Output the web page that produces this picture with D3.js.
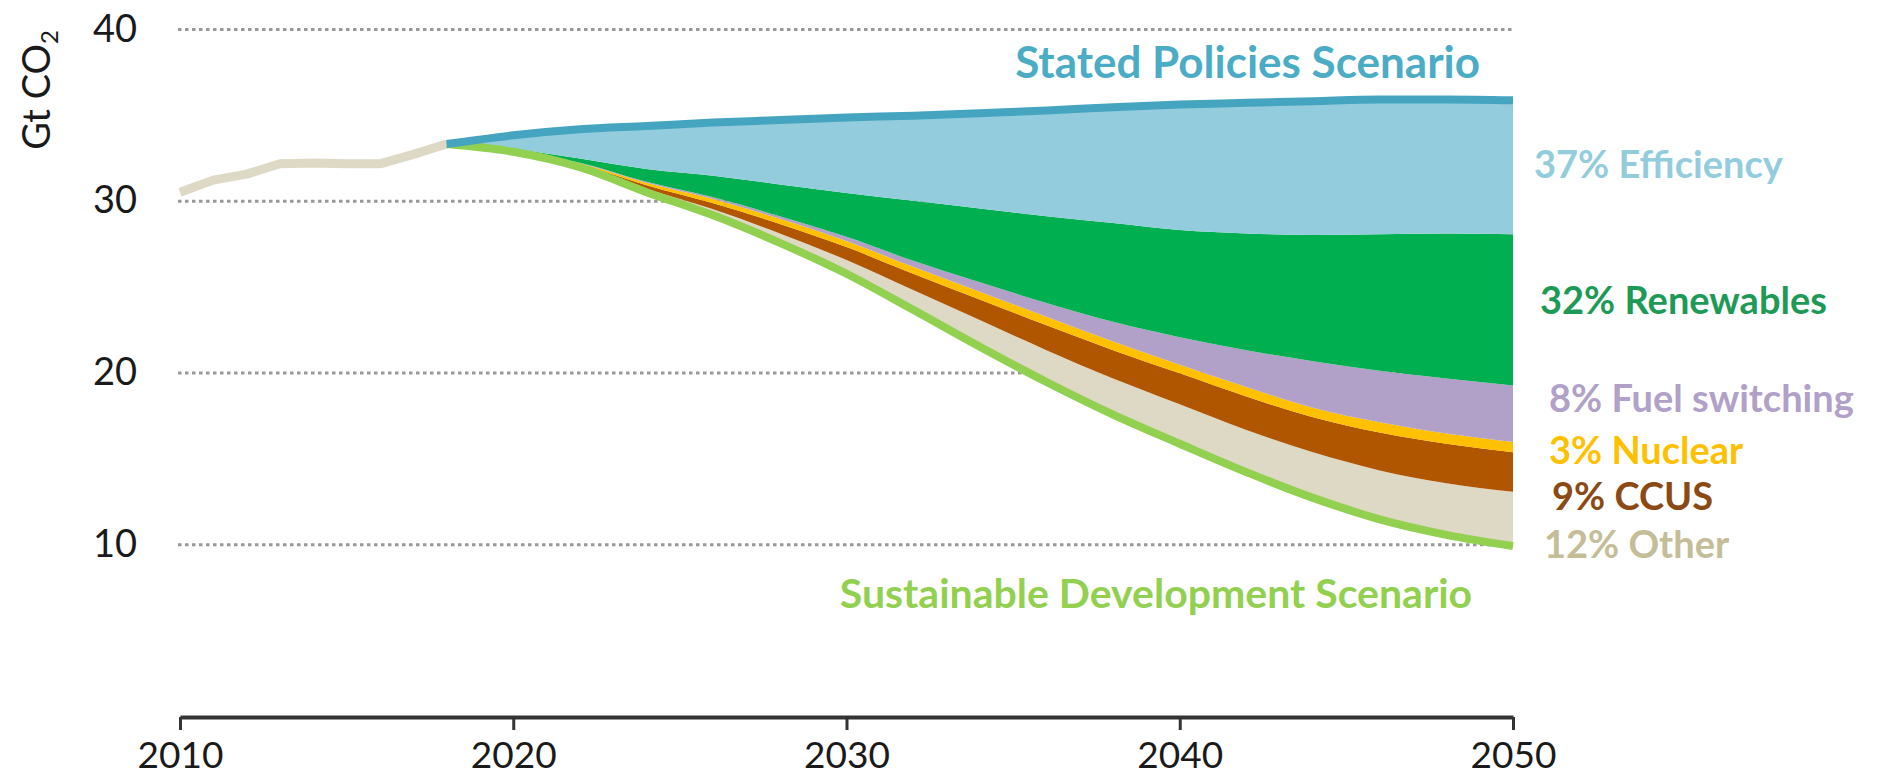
<!DOCTYPE html>
<html><head><meta charset="utf-8">
<script src="https://cdn.jsdelivr.net/npm/d3@7"></script>
<style>
html,body{margin:0;padding:0;background:#fff;}
svg{display:block;font-family:Lato,"Open Sans",sans-serif;}
</style></head><body>
<svg id="chart" width="1886" height="777"></svg>
<script>
// ---- data (Gt CO2) ----
const histYears  = [2010, 2011, 2012, 2013, 2014, 2015, 2016, 2017, 2018];
const histValues = [30.5, 31.2, 31.55, 32.15, 32.2, 32.15, 32.15, 32.7, 33.3];

const years = [2018, 2020, 2022, 2024, 2026, 2028, 2030, 2032, 2034, 2036, 2038, 2040, 2042, 2044, 2046, 2048, 2050];
// Sustainable Development Scenario emissions (baseline of the wedges)
const sds           = [33.3, 32.85, 31.95, 30.5, 29.15, 27.55, 25.75, 23.65, 21.5, 19.45, 17.55, 15.85, 14.2, 12.7, 11.45, 10.55, 9.9];
// abatement wedges, bottom to top
const other         = [0, 0.02, 0.08, 0.2, 0.35, 0.55, 0.8, 1.15, 1.55, 1.85, 2.1, 2.3, 2.45, 2.65, 2.85, 3.0, 3.15];
const ccus          = [0, 0.02, 0.08, 0.2, 0.35, 0.55, 0.75, 0.95, 1.2, 1.45, 1.65, 1.8, 1.95, 2.05, 2.2, 2.3, 2.3];
const nuclear       = [0, 0.02, 0.08, 0.15, 0.25, 0.3, 0.35, 0.4, 0.45, 0.5, 0.5, 0.5, 0.55, 0.55, 0.6, 0.6, 0.6];
const fuelSwitching = [0, 0, 0.02, 0.05, 0.1, 0.15, 0.25, 0.35, 0.55, 0.8, 1.15, 1.6, 2.15, 2.7, 3.0, 3.2, 3.3];
const renewables    = [0, 0.1, 0.25, 0.75, 1.25, 1.85, 2.55, 3.5, 4.3, 5.05, 5.75, 6.25, 6.8, 7.35, 7.95, 8.45, 8.8];
const efficiency    = [0, 0.8, 1.7, 2.5, 3.1, 3.75, 4.4, 4.95, 5.55, 6.15, 6.75, 7.3, 7.6, 7.8, 7.85, 7.8, 7.8];

const wedgeKeys   = ["other", "ccus", "nuclear", "fuelSwitching", "renewables", "efficiency"];
const wedgeLabels = ["12% Other", "9% CCUS", "3% Nuclear", "8% Fuel switching", "32% Renewables", "37% Efficiency"];

const xTicks = [2010, 2020, 2030, 2040, 2050];
const yTicks = [10, 20, 30, 40];
const yTitle = "Gt CO";
const stepsLabel = "Stated Policies Scenario";
const sdsLabel = "Sustainable Development Scenario";

// ---- styles ----
const fills = {other:"#DDD9C4", ccus:"#B05500", nuclear:"#FFC000", fuelSwitching:"#B1A0C7", renewables:"#00B050", efficiency:"#93CDDD"};
const labelColors = {other:"#C4BD97", ccus:"#8B4A14", nuclear:"#FFC000", fuelSwitching:"#B1A0C7", renewables:"#1D9A56", efficiency:"#93CDDD"};
const labelPos = {efficiency:[1534,165], renewables:[1540,301], fuelSwitching:[1549,399], nuclear:[1549,451], ccus:[1552,497], other:[1544,545]};

const svg = d3.select("#chart");
const x = d3.scaleLinear().domain([2010, 2050]).range([180, 1513]);
const y = d3.scaleLinear().domain([0, 40]).range([716, 29]);

// gridlines + y labels
const gy = svg.append("g").attr("transform", "translate(178,0)")
  .call(d3.axisLeft(y).tickValues(yTicks).tickSize(-(x(2050) - 178 + 2)).tickPadding(41).tickFormat(d => d));
gy.select(".domain").remove();
gy.selectAll(".tick line").attr("stroke", "#999").attr("stroke-width", 3).attr("stroke-dasharray", "3.5,3.5");
gy.selectAll(".tick text").attr("font-size", 38).attr("fill", "#1a1a1a").attr("font-family", "Lato");

// stacked wedges
const rows = years.map((yr, i) => ({
  year: yr, sds: sds[i], other: other[i], ccus: ccus[i], nuclear: nuclear[i],
  fuelSwitching: fuelSwitching[i], renewables: renewables[i], efficiency: efficiency[i]
}));
const stacked = d3.stack().keys(["sds"].concat(wedgeKeys))(rows);
const area = d3.area().x(d => x(d.data.year)).y0(d => y(d[0])).y1(d => y(d[1])).curve(d3.curveMonotoneX);
svg.append("g").selectAll("path").data(stacked.slice(1)).join("path")
  .attr("d", area).attr("fill", d => fills[d.key]);

// historical line
svg.append("path")
  .attr("d", d3.line().x(d => x(d[0])).y(d => y(d[1]))(histYears.map((yr, i) => [yr, histValues[i]])))
  .attr("fill", "none").attr("stroke", "#DDD9C4").attr("stroke-width", 9).attr("stroke-linejoin", "round");

// SDS line
svg.append("path")
  .attr("d", d3.line().x(d => x(d.year)).y(d => y(d.sds)).curve(d3.curveMonotoneX)(rows))
  .attr("fill", "none").attr("stroke", "#92D050").attr("stroke-width", 8);

// STEPS line (top of the stack)
const topLayer = stacked[stacked.length - 1];
svg.append("path")
  .attr("d", d3.line().x(d => x(d.data.year)).y(d => y(d[1])).curve(d3.curveMonotoneX)(topLayer))
  .attr("fill", "none").attr("stroke", "#45A5C0").attr("stroke-width", 8);

// x axis
const gx = svg.append("g").attr("transform", "translate(0,717)")
  .call(d3.axisBottom(x).tickValues(xTicks).tickSize(13).tickSizeOuter(0).tickPadding(12).tickFormat(d3.format("d")));
gx.select(".domain").attr("stroke", "#333").attr("stroke-width", 4);
gx.selectAll(".tick line").attr("stroke", "#333").attr("stroke-width", 3);
gx.selectAll(".tick text").attr("font-size", 37).attr("fill", "#1a1a1a").attr("font-family", "Lato");

// y title
const yt = svg.append("text").attr("transform", "translate(50,90) rotate(-90)")
  .attr("text-anchor", "middle").attr("font-size", 38).attr("fill", "#1a1a1a");
yt.append("tspan").text(yTitle);
yt.append("tspan").attr("font-size", 24).attr("dy", 8).text("2");

// scenario labels
svg.append("text").attr("x", 1480).attr("y", 63).attr("dy", "0.35em").attr("text-anchor", "end")
  .attr("font-size", 44).attr("font-weight", "bold").attr("fill", "#4BACC6").text(stepsLabel);
svg.append("text").attr("x", 1156).attr("y", 594).attr("dy", "0.35em").attr("text-anchor", "middle")
  .attr("font-size", 41).attr("font-weight", "bold").attr("fill", "#92D050").text(sdsLabel);

// wedge labels
svg.append("g").selectAll("text").data(wedgeKeys).join("text")
  .attr("x", k => labelPos[k][0]).attr("y", k => labelPos[k][1]).attr("dy", "0.35em")
  .attr("font-size", 38).attr("font-weight", "bold").attr("fill", k => labelColors[k])
  .text((k, i) => wedgeLabels[i]);
</script>
</body></html>
